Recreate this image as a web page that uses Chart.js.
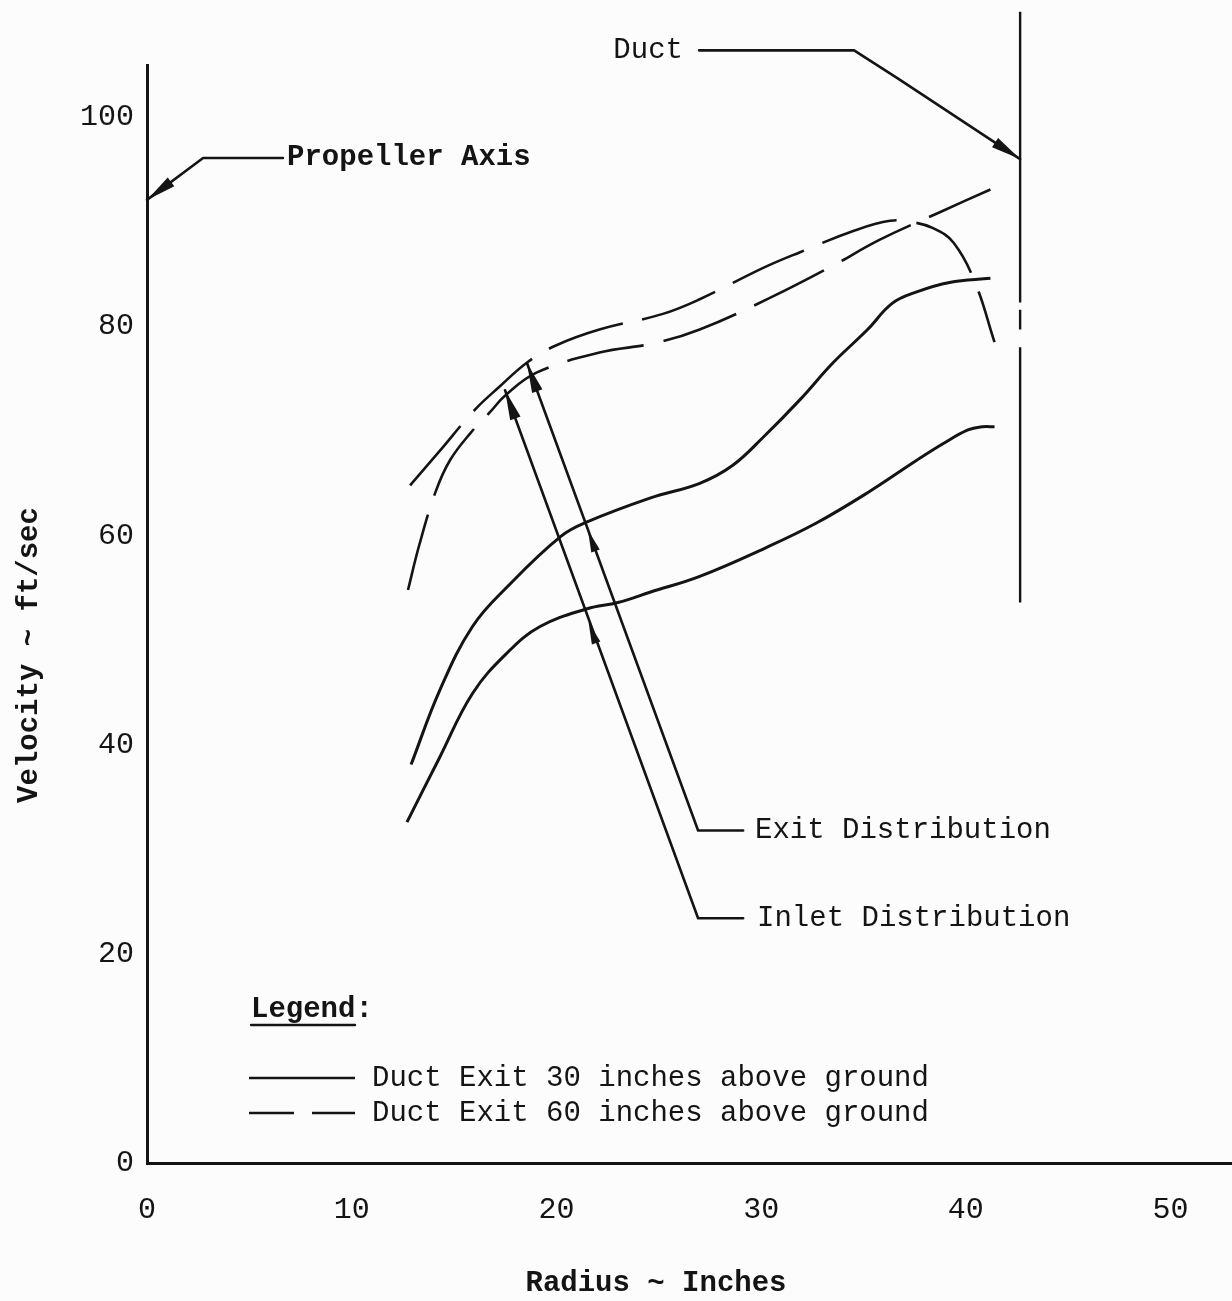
<!DOCTYPE html>
<html><head><meta charset="utf-8">
<script src="https://cdn.jsdelivr.net/npm/chart.js@4.4.1/dist/chart.umd.min.js"></script>
<style>html,body{margin:0;padding:0;background:#fcfcfc;}#wrap{width:1232px;height:1301px;}</style>
</head><body><div id="wrap"><canvas id="c" width="1232" height="1301"></canvas></div>
<script>
// ---------- data ----------
const xTicks = [0, 10, 20, 30, 40, 50];
const yTicks = [0, 20, 40, 60, 80, 100];
const xTitle = 'Radius ~ Inches';
const yTitle = 'Velocity ~ ft/sec';
const legendTitle = 'Legend:';
const legendLabels = ['Duct Exit 30 inches above ground', 'Duct Exit 60 inches above ground'];

// 30 in, exit distribution (solid, upper)
const exit30X = [12.9, 14.3, 15.9, 17.6, 20.2, 21.5, 24.6, 27.0, 28.6, 30.1, 31.9, 33.5, 35.2, 36.4, 37.6, 39.2, 41.2];
const exit30Y = [38.1, 45.2, 51.3, 55.1, 59.9, 61.3, 63.6, 65.0, 66.7, 69.4, 73.0, 76.5, 79.7, 82.2, 83.3, 84.2, 84.6];
// 30 in, inlet distribution (solid, lower)
const inlet30X = [12.7, 14.3, 15.9, 17.6, 19.2, 21.5, 23.0, 24.6, 27.0, 30.3, 32.7, 35.2, 37.6, 38.9, 40.1, 40.8, 41.4];
const inlet30Y = [32.6, 38.8, 44.9, 48.8, 51.3, 53.0, 53.6, 54.6, 56.1, 58.9, 61.2, 64.1, 67.2, 68.8, 70.1, 70.4, 70.4];
// 60 in, exit distribution (dashed, peaks then drops)
const exit60X = [12.85, 14.3, 16.0, 17.2, 18.6, 20.0, 22.1, 25.2, 27.0, 30.1, 31.9, 34.6, 36.3, 37.3, 38.4, 39.4, 40.45, 41.4];
const exit60Y = [64.8, 68.1, 72.0, 74.2, 76.6, 78.2, 79.7, 81.2, 82.6, 85.6, 87.1, 89.2, 90.1, 90.0, 89.4, 88.0, 84.2, 78.5];
// 60 in, inlet distribution (dashed, rises to the duct)
const inlet60X = [12.75, 13.3, 14.1, 14.8, 15.8, 16.8, 17.5, 19.05, 22.1, 24.8, 27.0, 30.4, 33.4, 35.8, 38.7, 41.2];
const inlet60Y = [54.8, 59.1, 64.2, 67.2, 69.8, 71.9, 73.4, 75.6, 77.5, 78.4, 79.7, 82.7, 85.7, 88.3, 90.9, 93.1];
// duct wall (radius) with its two small breaks
const ductRadius = 42.65;
const ductY = [110.1, 82.3, null, 81.6, 79.7, null, 78.0, 53.6];

// annotation anchors in data units
const annotations = [
  { text: 'Propeller Axis', bold: true, at: [6.84, 96.1], align: 'left',
    path: [[6.64, 96.1], [2.74, 96.1], [0, 92.1]] },
  { text: 'Duct', bold: false, at: [26.18, 106.4], align: 'right',
    path: [[26.97, 106.4], [34.54, 106.4], [36.69, 103.7], [ductRadius, 96.0]] },
  { text: 'Exit Distribution', bold: false, at: [29.7, 31.8], align: 'left',
    path: [[29.12, 31.8], [26.92, 31.8], [18.56, 76.5]], mid: [21.54, 60.5] },
  { text: 'Inlet Distribution', bold: false, at: [29.8, 23.4], align: 'left',
    path: [[29.12, 23.4], [26.92, 23.4], [17.49, 73.9]], mid: [21.57, 51.7] }
];

// ---------- styling ----------
const INK = '#141414';
const FONT = "'Liberation Mono', 'DejaVu Sans Mono', monospace";
const toPts = (xs, ys) => xs.map((v, i) => ({ x: v, y: ys[i] }));
const DASH = [78, 20];

const base = { pointRadius: 0, borderColor: INK, fill: false, tension: 0.4, clip: false };
const datasets = [
  Object.assign({ label: legendLabels[0] + ' (exit)', data: toPts(exit30X, exit30Y), borderWidth: 3 }, base),
  Object.assign({ label: legendLabels[0] + ' (inlet)', data: toPts(inlet30X, inlet30Y), borderWidth: 3 }, base),
  Object.assign({ label: legendLabels[1] + ' (exit)', data: toPts(exit60X, exit60Y), borderWidth: 2.6, borderDash: DASH }, base),
  Object.assign({ label: legendLabels[1] + ' (inlet)', data: toPts(inlet60X, inlet60Y), borderWidth: 2.6, borderDash: DASH }, base),
  { label: 'Duct', data: ductY.map(v => ({ x: ductRadius, y: v })), borderColor: INK, borderWidth: 2.4,
    pointRadius: 0, spanGaps: false, tension: 0, clip: false }
];

function arrowHead(ctx, from, to, len, half) {
  const dx = to[0] - from[0], dy = to[1] - from[1];
  const d = Math.hypot(dx, dy) || 1;
  const ux = dx / d, uy = dy / d;
  const bx = to[0] - ux * len, by = to[1] - uy * len;
  ctx.beginPath();
  ctx.moveTo(to[0], to[1]);
  ctx.lineTo(bx - uy * half, by + ux * half);
  ctx.lineTo(bx, by);
  ctx.lineTo(bx + uy * half, by - ux * half);
  ctx.closePath();
  ctx.fill();
}

const annotPlugin = {
  id: 'annot',
  afterDatasetsDraw(chart) {
    const { ctx, scales: { x, y } } = chart;
    const P = p => [x.getPixelForValue(p[0]), y.getPixelForValue(p[1])];
    ctx.save();
    ctx.strokeStyle = INK; ctx.fillStyle = INK; ctx.lineWidth = 2.6; ctx.lineJoin = 'round'; ctx.lineCap = 'round';
    for (const a of annotations) {
      const pts = a.path.map(P);
      ctx.beginPath();
      pts.forEach((p, i) => i ? ctx.lineTo(p[0], p[1]) : ctx.moveTo(p[0], p[1]));
      ctx.stroke();
      const n = pts.length;
      arrowHead(ctx, pts[n - 2], pts[n - 1], 30, 5.5);
      if (a.mid) {
        const m = P(a.mid);
        const dx = pts[n - 1][0] - pts[n - 2][0], dy = pts[n - 1][1] - pts[n - 2][1];
        arrowHead(ctx, [m[0] - dx, m[1] - dy], m, 22, 4.5);
      }
      const t = P(a.at);
      ctx.font = (a.bold ? 'bold ' : '') + '29px ' + FONT;
      ctx.textAlign = a.align; ctx.textBaseline = 'middle';
      ctx.fillText(a.text, t[0], t[1]);
    }
    // legend (inside the plot area)
    const ca = chart.chartArea;
    const lx = ca.left + 104, tx = ca.left + 225;
    ctx.font = 'bold 29px ' + FONT; ctx.textAlign = 'left'; ctx.textBaseline = 'middle';
    ctx.fillText(legendTitle, lx, ca.bottom - 153);
    ctx.lineWidth = 2.4;
    ctx.beginPath(); ctx.moveTo(lx, ca.bottom - 138); ctx.lineTo(lx + 104, ca.bottom - 138); ctx.stroke();
    ctx.font = '29px ' + FONT;
    const rows = [ca.bottom - 85, ca.bottom - 50];
    rows.forEach((ry, i) => {
      ctx.save();
      ctx.lineWidth = 2.6; ctx.lineCap = 'butt';
      ctx.setLineDash(i === 0 ? [] : [45, 18]);
      ctx.beginPath(); ctx.moveTo(lx - 2, ry); ctx.lineTo(lx + 104, ry); ctx.stroke();
      ctx.restore();
      ctx.fillText(legendLabels[i], tx, ry);
    });
    // axis titles
    ctx.font = 'bold 29px ' + FONT; ctx.textAlign = 'center'; ctx.textBaseline = 'middle';
    ctx.fillText(xTitle, 656, 1284);
    ctx.save();
    ctx.translate(30, 655); ctx.rotate(-Math.PI / 2);
    ctx.fillText(yTitle, 0, 0);
    ctx.restore();
    ctx.restore();
  }
};

new Chart(document.getElementById('c'), {
  type: 'line',
  data: { datasets },
  options: {
    responsive: false, animation: false, devicePixelRatio: 1,
    layout: { padding: { top: 65, right: 0, left: 0, bottom: 0 } },
    plugins: { legend: { display: false }, tooltip: { enabled: false } },
    scales: {
      x: {
        type: 'linear', min: 0, max: 53,
        afterBuildTicks: s => { s.ticks = xTicks.map(v => ({ value: v })); },
        afterFit: s => { s.height = 138; },
        grid: { display: true, color: 'rgba(0,0,0,0)', drawTicks: false },
        border: { display: true, color: INK, width: 3 },
        ticks: { padding: 29, color: INK, font: { family: FONT, size: 30 }, maxRotation: 0 }
      },
      y: {
        type: 'linear', min: 0, max: 105,
        afterBuildTicks: s => { s.ticks = yTicks.map(v => ({ value: v })); },
        afterFit: s => { s.width = 147; },
        grid: { display: true, color: 'rgba(0,0,0,0)', drawTicks: false },
        border: { display: true, color: INK, width: 3 },
        ticks: { padding: 13, color: INK, font: { family: FONT, size: 30 } }
      }
    }
  },
  plugins: [annotPlugin]
});
</script>
</body></html>
